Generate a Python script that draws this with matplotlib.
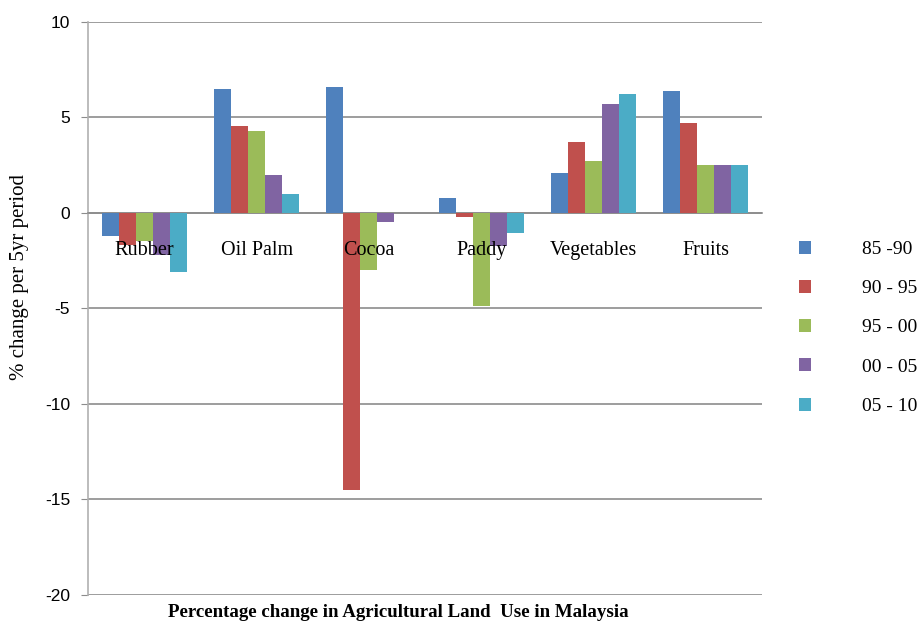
import matplotlib
matplotlib.use("Agg")
from matplotlib import pyplot as plt
import numpy as np

categories = ["Rubber", "Oil Palm", "Cocoa", "Paddy", "Vegetables", "Fruits"]
periods = ["85 -90", "90 - 95", "95 - 00", "00 - 05", "05 - 10"]
p85_90 = [-1.2, 6.5, 6.6, 0.8, 2.1, 6.4]
p90_95 = [-1.7, 4.55, -14.5, -0.2, 3.7, 4.7]
p95_00 = [-1.5, 4.3, -3.0, -4.9, 2.7, 2.5]
p00_05 = [-2.2, 2.0, -0.5, -1.75, 5.7, 2.5]
p05_10 = [-3.1, 1.0, 0.0, -1.05, 6.2, 2.5]
colors = ["#4F81BD", "#C0504D", "#9BBB59", "#8064A2", "#4BACC6"]


def main():
	plt.rcParams["axes.unicode_minus"] = False
	series = [p85_90, p90_95, p95_00, p00_05, p05_10]
	fig = plt.figure(figsize=(9.19, 6.21), dpi=100)
	ax = fig.add_axes([0.096, 0.042, 0.733, 0.923])

	x = np.arange(len(categories))
	w = 0.152
	for i, vals in enumerate(series):
		ax.bar(x + (i - 2) * w, vals, w, color=colors[i], label=periods[i],
			edgecolor="none", zorder=3)

	ax.set_xlim(-0.5, len(categories) - 0.5)
	ax.set_ylim(-20, 10)
	ax.set_yticks(np.arange(-20, 11, 5))
	ax.yaxis.grid(True, color="#8c8c8c", linewidth=1.2, zorder=0)
	ax.tick_params(axis="y", direction="out", length=5, color="#8c8c8c",
		labelsize=12.5, pad=8)
	for t in ax.get_yticklabels():
		t.set_fontfamily("Liberation Sans")

	# category axis at zero, names drawn over the bars just below it
	ax.spines["bottom"].set_position(("data", 0))
	ax.spines["bottom"].set_color("#8c8c8c")
	ax.spines["bottom"].set_linewidth(1.2)
	ax.spines["top"].set_visible(False)
	ax.spines["right"].set_visible(False)
	ax.spines["left"].set_color("#b0b0b0")
	ax.spines["left"].set_linewidth(1.2)
	ax.set_xticks([])
	for xi, cat in zip(x, categories):
		ax.text(xi, -1.95, cat, ha="center", va="center",
			family="Liberation Serif", fontsize=14.5, zorder=5)

	ax.set_ylabel("% change per 5yr period", family="Liberation Serif",
		fontsize=15)
	ax.yaxis.set_label_coords(-0.088, 0.555)

	leg = ax.legend(loc="center left", bbox_to_anchor=(1.0, 0.466),
		frameon=False, prop={"family": "Liberation Serif", "size": 14},
		handlelength=0.65, handleheight=0.65, handletextpad=2.6,
		labelspacing=1.13, borderaxespad=1.5)

	fig.text(0.433, 0.014, "Percentage change in Agricultural Land  Use in Malaysia",
		ha="center", va="center", family="Liberation Serif",
		fontweight="bold", fontsize=13.6)

	plt.savefig("out.png", dpi=100)


if __name__ == '__main__':
	main()
